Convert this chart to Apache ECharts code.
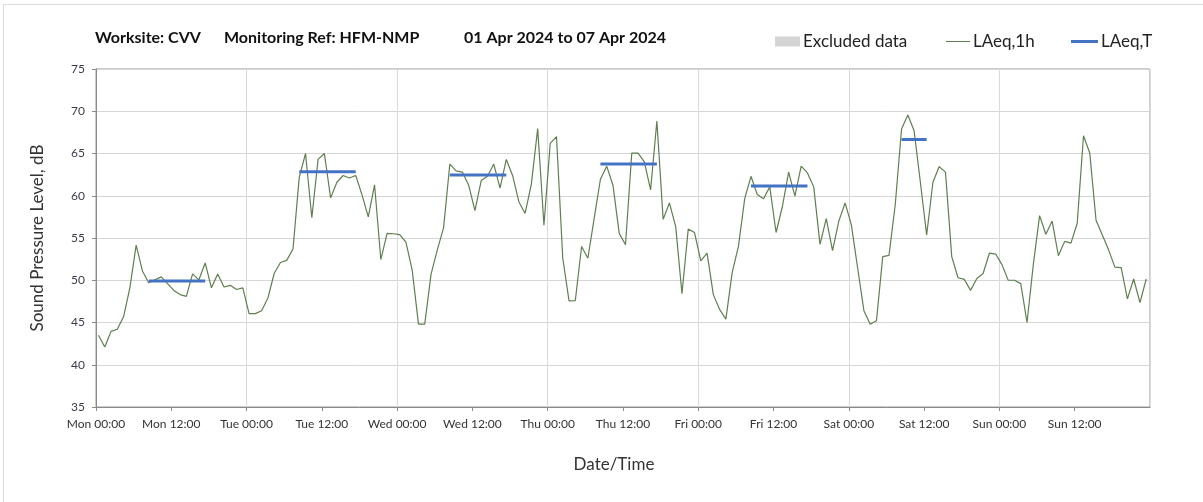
<!DOCTYPE html>
<html>
<head>
<meta charset="utf-8">
<title>Worksite CVV - LAeq</title>
<script src="https://cdn.jsdelivr.net/npm/echarts@6/dist/echarts.min.js"></script>
<style>
  html, body { margin: 0; padding: 0; background: #fff; }
  #frame {
    position: absolute; left: 3px; top: 4px; width: 1200px; height: 498px;
    border-top: 1px solid #dcdcdc; border-left: 1px solid #dcdcdc;
  }
  #main { position: absolute; left: 0; top: 0; width: 1203px; height: 502px; }
</style>
</head>
<body>
<div id="frame"></div>
<div id="main"></div>
<script>
// hourly LAeq,1h values, Mon 01 Apr 00:00 -> Sun 07 Apr 23:00
var laeq1h = [
  43.5, 42.1, 43.95, 44.2, 45.7, 49.1, 54.15, 51.1, 49.7, 50.05, 50.4, 49.6, 48.8, 48.3, 48.1, 50.75, 50.05, 52.05, 49.1, 50.75, 49.2, 49.4, 48.9, 49.1,
  46.05, 46.05, 46.4, 47.9, 50.8, 52.1, 52.35, 53.7, 62.2, 65.0, 57.4, 64.3, 65.0, 59.75, 61.6, 62.4, 62.1, 62.4, 60.1, 57.5, 61.3, 52.45, 55.55, 55.5,
  55.4, 54.5, 51.2, 44.8, 44.8, 50.7, 53.6, 56.2, 63.75, 62.95, 62.8, 61.25, 58.25, 61.8, 62.3, 63.75, 60.9, 64.3, 62.4, 59.3, 57.9, 61.4, 67.95, 56.5,
  66.2, 67.0, 52.6, 47.55, 47.6, 54.0, 52.6, 57.3, 61.95, 63.5, 61.25, 55.55, 54.2, 65.05, 65.05, 64.0, 60.7, 68.85, 57.2, 59.15, 56.35, 48.4, 56.05, 55.65,
  52.3, 53.2, 48.3, 46.55, 45.4, 50.9, 54.0, 59.65, 62.3, 60.15, 59.65, 61.05, 55.65, 58.7, 62.8, 59.95, 63.5, 62.7, 61.05, 54.25, 57.3, 53.5, 57.0, 59.15,
  56.55, 51.45, 46.4, 44.8, 45.2, 52.8, 52.95, 59.0, 67.9, 69.55, 67.7, 61.6, 55.35, 61.6, 63.45, 62.8, 52.8, 50.3, 50.1, 48.8, 50.2, 50.8, 53.2, 53.1,
  51.85, 50.0, 50.0, 49.6, 45.0, 51.85, 57.65, 55.45, 57.0, 52.9, 54.6, 54.4, 56.75, 67.1, 65.05, 57.1, 55.35, 53.6, 51.55, 51.5, 47.8, 50.15, 47.35, 50.15
];
// LAeq,T periods: start hour, end hour, level
var periodStart = [8, 32, 56, 80, 104, 128];
var periodEnd = [17, 41, 65, 89, 113, 132];
var periodLevel = [49.9, 62.85, 62.45, 63.75, 61.15, 66.65];
var dayNames = ["Mon", "Tue", "Wed", "Thu", "Fri", "Sat", "Sun"];
var timeNames = ["00:00", "12:00"];
var sampleOffset = 0.4; // readings sit a little after the hour

var fontFamily = "Lato, 'Open Sans', sans-serif";
var textColor = "#333";

var lineData = laeq1h.map(function (v, i) {
  return [i + sampleOffset, v];
});

var series = [
  {
    name: "Excluded data",
    type: "bar",
    data: [],
    itemStyle: { color: "#d4d4d4" },
  },
  {
    name: "LAeq,1h",
    type: "line",
    data: lineData,
    symbol: "none",
    lineStyle: { color: "#5f7f4f", width: 1.2 },
    itemStyle: { color: "#5f7f4f" },
    z: 3,
  },
];
for (var p = 0; p < periodLevel.length; p++) {
  series.push({
    name: "LAeq,T",
    type: "line",
    data: [
      [periodStart[p] + sampleOffset, periodLevel[p]],
      [periodEnd[p] + sampleOffset, periodLevel[p]],
    ],
    symbol: "none",
    lineStyle: { color: "#4472c4", width: 3 },
    itemStyle: { color: "#4472c4" },
    z: 4,
  });
}

var chart = echarts.init(document.getElementById("main"));
var option = {
  animation: false,
  textStyle: { fontFamily: fontFamily },
  title: [
    { text: "Worksite: CVV", left: 95, top: 30 },
    { text: "Monitoring Ref: HFM-NMP", left: 224, top: 30 },
    { text: "01 Apr 2024 to 07 Apr 2024", left: 464, top: 30 },
  ].map(function (t) {
    t.padding = 0;
    t.textStyle = { fontFamily: fontFamily, fontSize: 16, fontWeight: "bold", color: "#111" };
    return t;
  }),
  legend: [
    { data: [{ name: "Excluded data", icon: "rect" }], left: 775, itemWidth: 25, itemHeight: 10 },
    { data: [{ name: "LAeq,1h", icon: "rect" }], left: 946, itemWidth: 24, itemHeight: 1 },
    { data: [{ name: "LAeq,T", icon: "rect" }], left: 1071, itemWidth: 27, itemHeight: 3 },
  ].map(function (l) {
    l.top = 33;
    l.padding = 0;
    l.itemGap = 4;
    l.textStyle = { fontFamily: fontFamily, fontSize: 17, color: "#222", padding: [0, 0, 0, -2] };
    return l;
  }),
  grid: {
    left: 96,
    right: 53,
    top: 69,
    bottom: 95,
    show: true,
    borderColor: "#9a9a9a",
    borderWidth: 1,
  },
  xAxis: [
    {
      type: "value",
      min: 0,
      max: 168,
      interval: 12,
      name: "Date/Time",
      nameLocation: "middle",
      nameGap: 49,
      nameTextStyle: { fontSize: 17, color: textColor, fontFamily: fontFamily, padding: [0, 18, 0, 0] },
      axisLine: { show: true, lineStyle: { color: "#8a8a8a" } },
      axisTick: { show: true, length: 4, lineStyle: { color: "#8a8a8a" } },
      splitLine: { show: false },
      axisLabel: {
        color: textColor,
        fontSize: 12,
        margin: 11,
        showMaxLabel: false,
        formatter: function (v) {
          if (v >= 168) return "";
          return dayNames[Math.floor(v / 24)] + " " + timeNames[(v % 24) / 12];
        },
      },
    },
    {
      type: "value",
      min: 0,
      max: 168,
      interval: 24,
      position: "bottom",
      axisLine: { show: false },
      axisTick: { show: false },
      axisLabel: { show: false },
      splitLine: { show: true, lineStyle: { color: "#dadada" } },
    },
  ],
  yAxis: {
    type: "value",
    min: 35,
    max: 75,
    interval: 5,
    name: "Sound Pressure Level, dB",
    nameLocation: "middle",
    nameGap: 50,
    nameTextStyle: { fontSize: 17, color: textColor, fontFamily: fontFamily },
    axisLine: { show: true, lineStyle: { color: "#8a8a8a" } },
    axisTick: { show: true, length: 4, lineStyle: { color: "#8a8a8a" } },
    axisLabel: { color: "#3a3a4a", fontSize: 12, margin: 11 },
    splitLine: { show: true, lineStyle: { color: "#d6d6d6" } },
  },
  series: series,
};
chart.setOption(option);
</script>
</body>
</html>
